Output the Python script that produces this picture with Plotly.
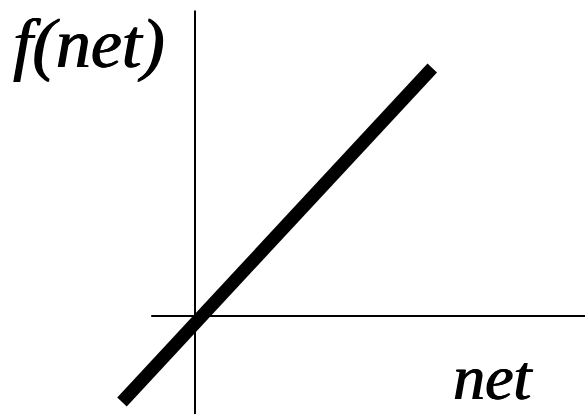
import plotly.graph_objects as go

# linear activation: f(net) (end points of the thick line)
net = [-1.0, 3.25]
f_net = [-1.075, 3.1]

# axis lines
h_axis_x = [-0.6, 5.4]
h_axis_y = [0, 0]
v_axis_x = [0, 0]
v_axis_y = [-1.3, 3.82]

fig = go.Figure()
fig.add_trace(go.Scatter(x=h_axis_x, y=h_axis_y, mode="lines",
                         line={"color": "black", "width": 2}, hoverinfo="skip"))
fig.add_trace(go.Scatter(x=v_axis_x, y=v_axis_y, mode="lines",
                         line={"color": "black", "width": 2}, hoverinfo="skip"))
fig.add_trace(go.Scatter(x=net, y=f_net, mode="lines",
                         line={"color": "black", "width": 13}))

# thicken the serif italics a little, like the scanned original
label_font = {"family": "Liberation Serif, Times New Roman, serif", "color": "black",
              "shadow": "0.8px 0 0 black, -0.6px 0 0 black"}
fig.update_layout(
    width=585,
    height=414,
    margin={"l": 0, "r": 0, "t": 0, "b": 0},
    paper_bgcolor="white",
    plot_bgcolor="white",
    showlegend=False,
    xaxis={"range": [-2.671, 5.342], "visible": False},
    yaxis={"range": [-1.225, 3.95], "visible": False},
    annotations=[
        {"text": "<i>f(net)</i>", "xref": "paper", "yref": "paper",
         "x": 0.152, "y": 0.895, "xanchor": "center", "yanchor": "middle",
         "showarrow": False, "font": {**label_font, "size": 70}},
        {"text": "<i>net</i>", "xref": "paper", "yref": "paper",
         "x": 0.842, "y": 0.088, "xanchor": "center", "yanchor": "middle",
         "showarrow": False, "font": {**label_font, "size": 64}},
    ],
)

fig.write_html("out.html", config={"displayModeBar": False},
               post_script="document.body.style.margin='0';")
